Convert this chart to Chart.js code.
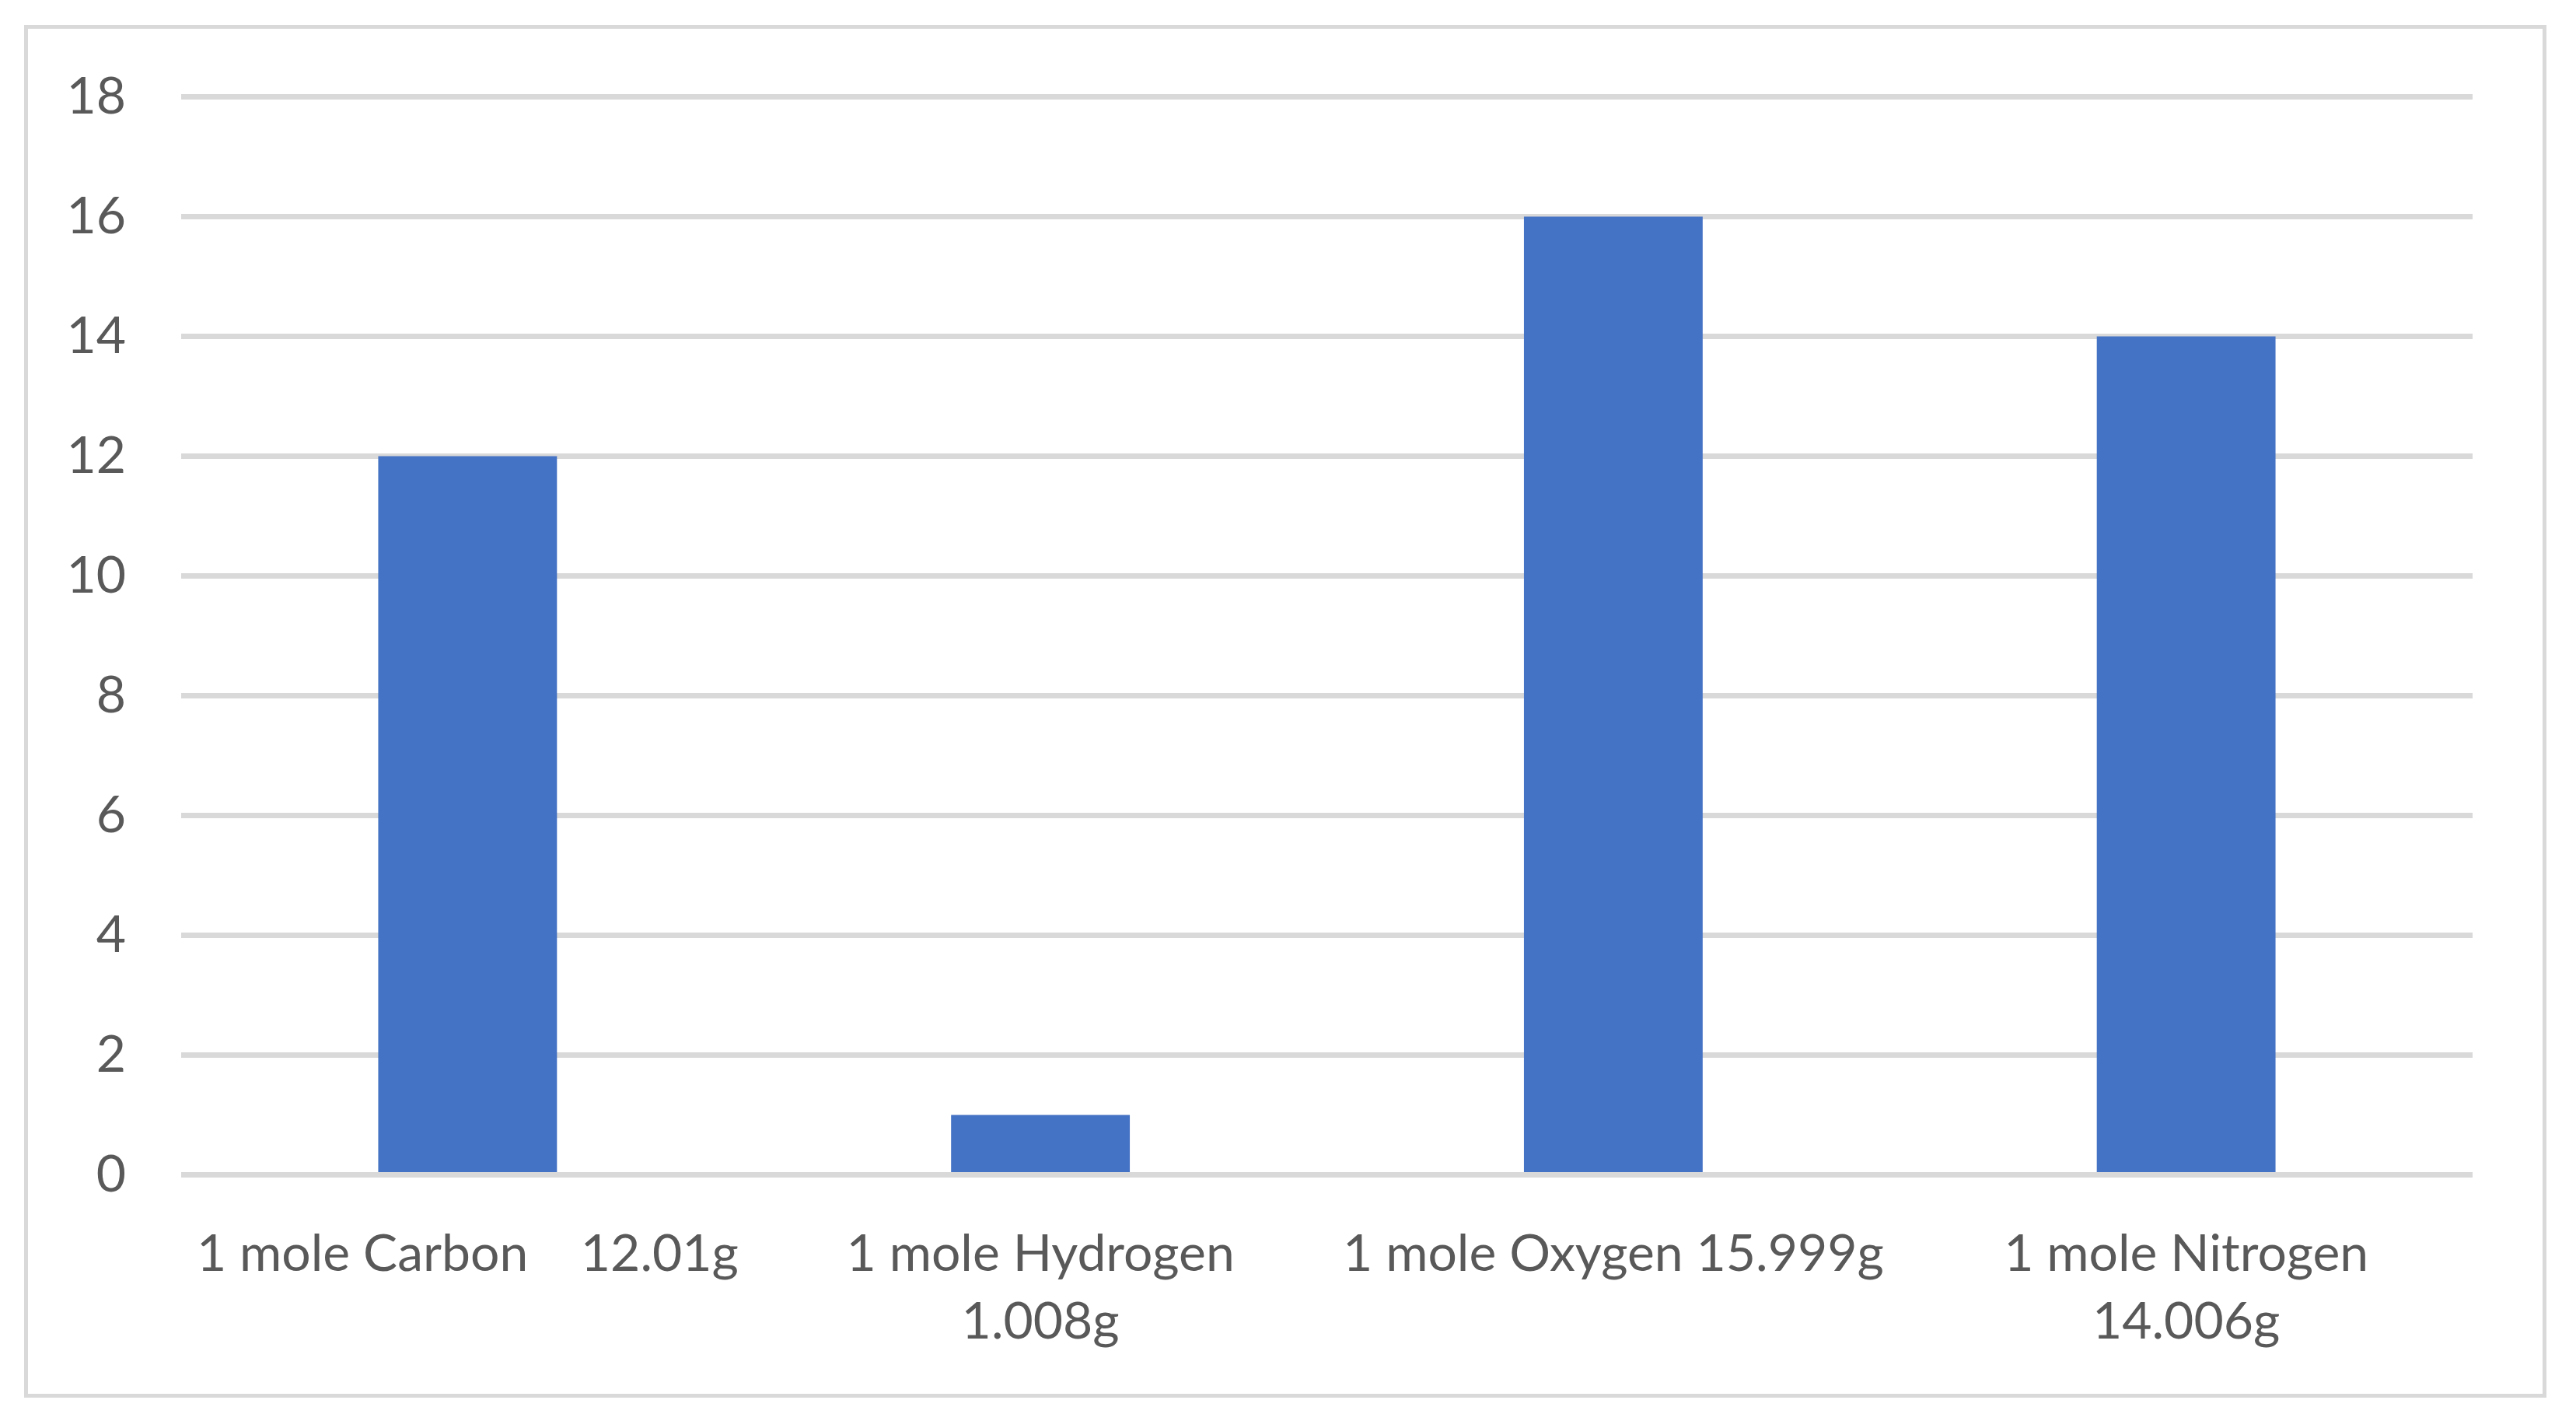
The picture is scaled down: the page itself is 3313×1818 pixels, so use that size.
<!DOCTYPE html>
<html>
<head>
<meta charset="utf-8">
<script src="https://cdn.jsdelivr.net/npm/chart.js@4/dist/chart.umd.min.js"></script>
<style>
  html, body { margin: 0; padding: 0; background: #fff; }
  #frame {
    position: absolute; left: 31px; top: 32px;
    width: 3234px; height: 1755px;
    border: 5px solid #d9d9d9;
  }
</style>
</head>
<body>
<div id="frame"><canvas id="molesChart"></canvas></div>
<script>
const categories = [
  '1 mole Carbon    12.01g',
  ['1 mole Hydrogen', '1.008g'],
  '1 mole Oxygen 15.999g',
  ['1 mole Nitrogen', '14.006g']
];
const massValues = [12, 1, 16, 14];
const yTicks = [0, 2, 4, 6, 8, 10, 12, 14, 16, 18];

const textColor = '#595959';
const gridColor = '#d9d9d9';
const fontFamily = 'Lato, "Noto Sans", sans-serif';

const ctx = document.getElementById('molesChart').getContext('2d');
new Chart(ctx, {
  type: 'bar',
  data: {
    labels: categories,
    datasets: [{
      data: massValues,
      backgroundColor: '#4472c4',
      borderWidth: 0,
      categoryPercentage: 1,
      barPercentage: 0.312
    }]
  },
  options: {
    responsive: true, maintainAspectRatio: false,
    animation: false,
    layout: { padding: { top: 87.5, right: 90, bottom: 0, left: 0 } },
    plugins: { legend: { display: false }, tooltip: { enabled: false } },
    scales: {
      x: {
        grid: { display: false },
        border: { display: false },
        ticks: {
          color: textColor, padding: 50, maxRotation: 0, autoSkip: false,
          font: { family: fontFamily, size: 66, lineHeight: 1.33 }
        },
        afterFit: (scale) => { scale.height = 281.5; }
      },
      y: {
        min: 0, max: 18,
        afterBuildTicks: (scale) => { scale.ticks = yTicks.map(v => ({ value: v })); },
        grid: { color: gridColor, lineWidth: 7, drawTicks: false },
        border: { display: false },
        ticks: {
          color: textColor, padding: 71,
          // small lineHeight keeps the axis from padding the top of the chart area
          font: { family: fontFamily, size: 66, lineHeight: 0.5 }
        },
        afterFit: (scale) => { scale.width = 197; }
      }
    }
  }
});
</script>
</body>
</html>
